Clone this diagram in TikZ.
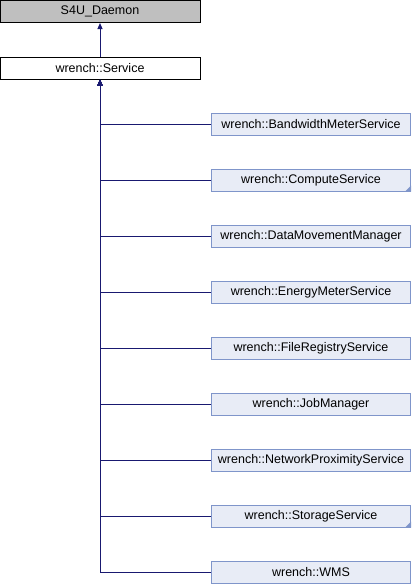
\documentclass[tikz,border=0pt]{standalone}
\usepackage{fontspec}
\setmainfont{Liberation Sans}
\usetikzlibrary{arrows.meta}
\definecolor{edgecol}{HTML}{191970}
\definecolor{basefill}{HTML}{BFBFBF}
\definecolor{childfill}{HTML}{E8ECF6}
\definecolor{childdraw}{HTML}{7F95CA}
\begin{document}
\begin{tikzpicture}[x=1pt,y=-1pt,
  basebox/.style={draw=black, line width=1pt, minimum width=200pt, minimum height=22pt, inner sep=0pt, font=\fontsize{12.5}{14}\selectfont},
  childbox/.style={draw=childdraw, fill=childfill, line width=1pt, minimum width=199pt, minimum height=22pt, inner sep=0pt, font=\fontsize{12.5}{14}\selectfont},
  edge/.style={draw=edgecol, line width=1pt, -{Triangle[length=6pt,width=5pt]}},
  fold/.style={fill=childdraw, draw=none}]
\useasboundingbox (0,0) rectangle (412,584);
\node[basebox, fill=basefill] (daemon) at (100,11.5) {S4U\_Daemon};
\node[basebox, fill=white] (service) at (100,68) {wrench::Service};
\node[childbox] (c0) at (311,124) {wrench::BandwidthMeterService};
\node[childbox] (c1) at (311,180) {wrench::ComputeService};
\node[childbox] (c2) at (311,236) {wrench::DataMovementManager};
\node[childbox] (c3) at (311,292) {wrench::EnergyMeterService};
\node[childbox] (c4) at (311,348) {wrench::FileRegistryService};
\node[childbox] (c5) at (311,404) {wrench::JobManager};
\node[childbox] (c6) at (311,460) {wrench::NetworkProximityService};
\node[childbox] (c7) at (311,516) {wrench::StorageService};
\node[childbox] (c8) at (311,572) {wrench::WMS};
\fill[fold] ([xshift=-6pt]c1.south east) -- (c1.south east) -- ([yshift=6pt]c1.south east) -- cycle;
\fill[fold] ([xshift=-6pt]c7.south east) -- (c7.south east) -- ([yshift=6pt]c7.south east) -- cycle;
\draw[edge] (service.north) -- (daemon.south);
\foreach \i in {0,...,8} {
  \draw[edge] (c\i.west) -| (service.south);
}
\end{tikzpicture}
\end{document}
